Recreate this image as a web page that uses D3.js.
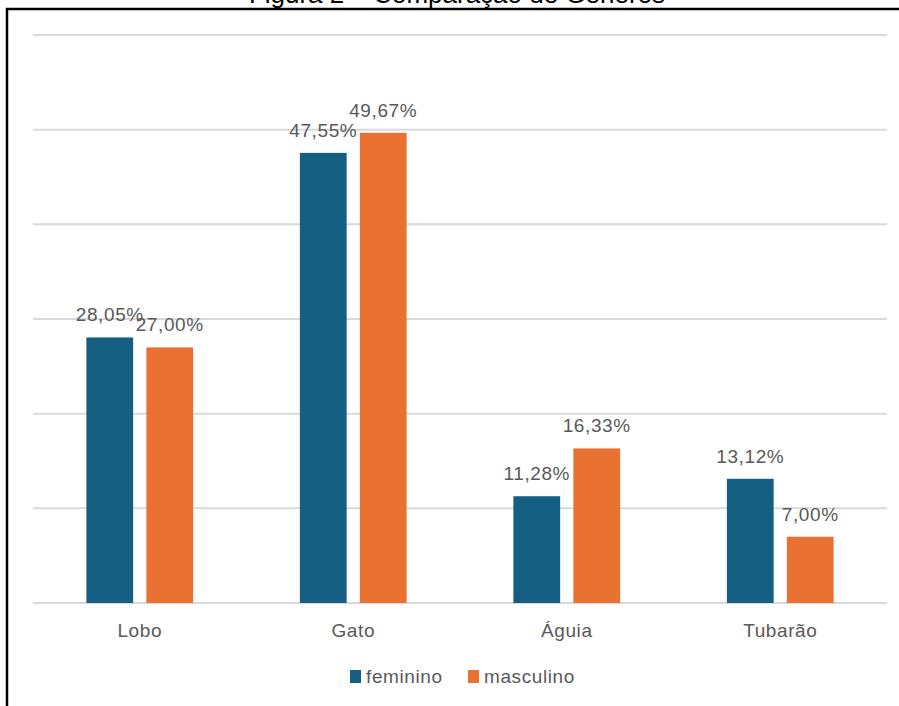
<!DOCTYPE html>
<html lang="pt">
<head>
<meta charset="UTF-8">
<title>Comparação de Gêneros</title>
<style>
    body { margin: 0; background: #fff; }
    svg { display: block; }
    .lbl { font-family: "Liberation Sans", Arial, sans-serif; fill: #595959; letter-spacing: 0.6px; }
</style>
</head>
<body>
<svg id="chart" width="899" height="706"></svg>
<script src="https://cdn.jsdelivr.net/npm/d3@7"></script>
<script>
// dados
const categorias = ['Lobo', 'Gato', 'Águia', 'Tubarão'];
const series = ['feminino', 'masculino'];
const feminino = [28.05, 47.55, 11.28, 13.12];
const masculino = [27.00, 49.67, 16.33, 7.00];
const yTicks = [0, 10, 20, 30, 40, 50, 60];
const cores = ['#156082', '#E97132'];

const valores = { feminino, masculino };

const svg = d3.select('#chart');
const plotLeft = 33, plotRight = 887, plotTop = 35, base = 603;

// moldura da figura
svg.append('path')
    .attr('d', 'M7,706 V9 H899')
    .attr('fill', 'none')
    .attr('stroke', '#000')
    .attr('stroke-width', 2.5);

// título (cortado no topo, como na imagem)
svg.append('text')
    .attr('x', 457)
    .attr('y', 3)
    .attr('text-anchor', 'middle')
    .style('font-family', '"Liberation Sans", Arial, sans-serif')
    .style('font-size', '26px')
    .attr('fill', '#000')
    .text('Figura 2 – Comparação de Gêneros');

const y = d3.scaleLinear().domain([0, 60]).range([base, plotTop]);
const x0 = d3.scaleBand().domain(categorias).range([plotLeft, plotRight])
    .paddingInner(0.5).paddingOuter(0.25);
const x1 = d3.scaleBand().domain(series).range([0, x0.bandwidth()])
    .paddingInner(0.22).paddingOuter(0);
const cor = d3.scaleOrdinal().domain(series).range(cores);

// linhas de grade
svg.append('g')
    .selectAll('line')
    .data(yTicks)
    .enter().append('line')
    .attr('x1', plotLeft).attr('x2', plotRight)
    .attr('y1', d => y(d)).attr('y2', d => y(d))
    .attr('stroke', '#d9d9d9')
    .attr('stroke-width', 2);

const grupos = svg.append('g')
    .selectAll('g')
    .data(categorias)
    .enter().append('g')
    .attr('transform', d => `translate(${x0(d)},0)`);

const dados = (c, i) => series.map(s => ({ s, v: valores[s][i] }));

grupos.selectAll('rect')
    .data(dados)
    .enter().append('rect')
    .attr('x', d => x1(d.s))
    .attr('y', d => y(d.v))
    .attr('width', x1.bandwidth())
    .attr('height', d => base - y(d.v))
    .attr('fill', d => cor(d.s));

grupos.selectAll('text')
    .data(dados)
    .enter().append('text')
    .attr('class', 'lbl')
    .attr('x', d => x1(d.s) + x1.bandwidth() / 2)
    .attr('y', d => y(d.v) - 16)
    .attr('text-anchor', 'middle')
    .style('font-size', '19px')
    .text(d => d.v.toFixed(2).replace('.', ',') + '%');

// eixo x (só rótulos)
const eixoX = svg.append('g')
    .attr('transform', `translate(0,${base})`)
    .call(d3.axisBottom(x0).tickSize(0).tickPadding(21));
eixoX.select('.domain').remove();
eixoX.selectAll('text')
    .attr('class', 'lbl')
    .style('font-size', '19px')
    .attr('fill', '#595959');

// legenda
const legenda = svg.append('g').attr('transform', 'translate(350,676)');
const pos = [0, 118];
series.forEach((s, i) => {
    legenda.append('rect')
        .attr('x', pos[i]).attr('y', -6)
        .attr('width', 11).attr('height', 13)
        .attr('fill', cor(s));
    legenda.append('text')
        .attr('class', 'lbl')
        .attr('x', pos[i] + 16).attr('y', 0)
        .attr('dy', '0.36em')
        .style('font-size', '19px')
        .text(s);
});
</script>
</body>
</html>
